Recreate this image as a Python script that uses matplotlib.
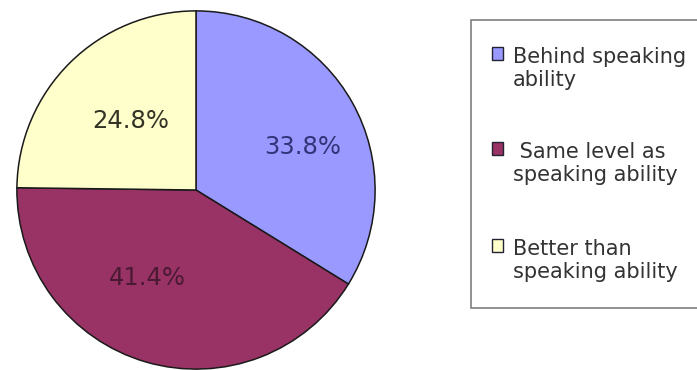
import matplotlib.pyplot as plt
from matplotlib.patches import Rectangle

# data
labels = ['Behind speaking\nability', ' Same level as\nspeaking ability', 'Better than\nspeaking ability']
shares = [33.8, 41.4, 24.8]
colors = ['#9999FF', '#993366', '#FFFFCC']
text_colors = ['#33337A', '#4A1A33', '#333326']
# where the percentage texts sit, as fractions of the radius
label_xy = [(0.594, 0.239), (-0.272, -0.489), (-0.367, 0.383)]

W, H = 697, 370
fig = plt.figure(figsize=(W / 100, H / 100), dpi=100)
fig.patch.set_facecolor('white')

# pie: centre (196, 190) px, radius 180 px
cx, cy, r = 196, 190, 180
ax = fig.add_axes([(cx - r) / W, (H - cy - r) / H, 2 * r / W, 2 * r / H])
wedges, texts, autotexts = ax.pie(shares, colors=colors, startangle=90, counterclock=False,
                                  autopct='%.1f%%', radius=1,
                                  wedgeprops=dict(edgecolor='#1a1a1a', linewidth=1.1),
                                  textprops=dict(fontsize=17.5, family='DejaVu Sans'))
for t, c, pos in zip(autotexts, text_colors, label_xy):
    t.set_color(c)
    t.set_position(pos)
ax.set_xlim(-1.005, 1.005)
ax.set_ylim(-1.005, 1.005)
ax.axis('off')

# legend box, runs off the right edge like the original
def fx(px):
    return px / W

def fy(py):
    return 1 - py / H

fig.patches.append(Rectangle((fx(471), fy(308)), fx(260), (308 - 20) / H,
                             transform=fig.transFigure, facecolor='white',
                             edgecolor='#7f7f7f', linewidth=1.2, zorder=0))

baselines = [61, 156, 253]
line_px = 25
for lab, col, base in zip(labels, colors, baselines):
    fig.patches.append(Rectangle((fx(492), fy(base - 1)), fx(11), 13 / H,
                                 transform=fig.transFigure, facecolor=col,
                                 edgecolor='#222233', linewidth=1.0))
    # va='baseline' pins the last line, so offset by the second line
    fig.text(fx(513), fy(base + line_px), lab, fontsize=15, family='DejaVu Sans',
             color='#333333', ha='left', va='baseline', linespacing=1.2)

fig.savefig('out.png', dpi=100)
